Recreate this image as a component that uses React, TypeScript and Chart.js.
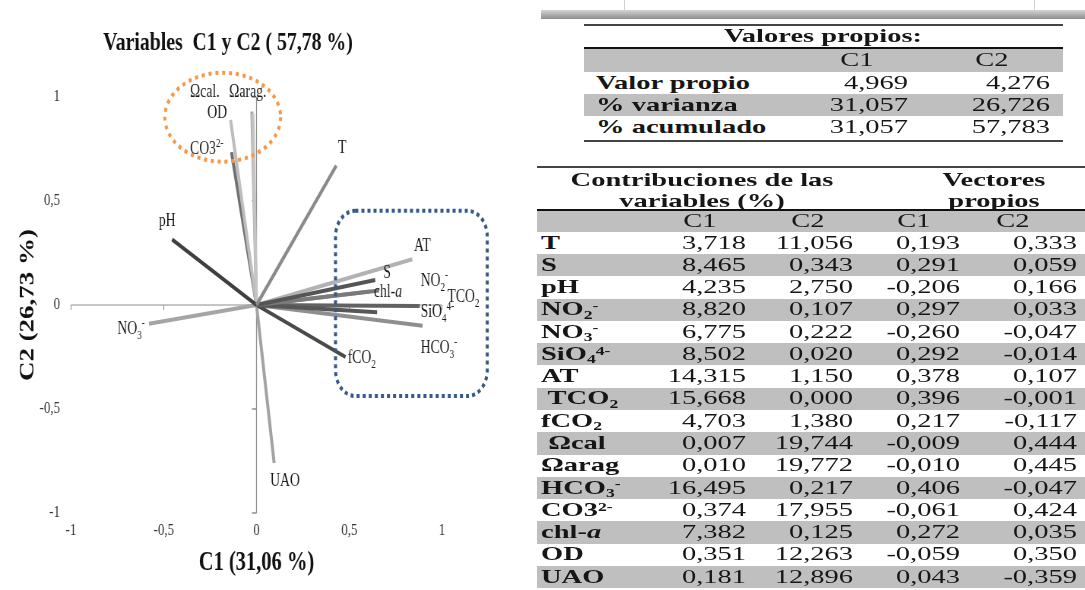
import React, { useEffect, useRef } from "react";
import { Chart, registerables } from "chart.js";

Chart.register(...registerables);

// ---------- DATA ----------
// PCA loadings as drawn in the correlation circle
const varNames = ["T", "S", "pH", "NO2", "NO3", "SiO4", "AT", "TCO2", "fCO2", "Ωcal", "Ωarag", "HCO3", "CO3", "chl-a", "OD", "UAO"];
const loadC1 = [0.43, 0.64, -0.455, 0.66, -0.58, 0.65, 0.84, 0.88, 0.48, -0.02, -0.025, 0.895, -0.14, 0.61, -0.135, 0.095];
const loadC2 = [0.67, 0.12, 0.315, 0.07, -0.09, -0.035, 0.22, -0.005, -0.25, 0.92, 0.93, -0.1, 0.89, 0.065, 0.735, -0.76];

// Labels placed in the plot (annotation anchors in data units)
const plotLabels = ["Ωcal.", "Ωarag.", "OD", "CO3^{2-}", "T", "pH", "AT", "S", "chl-*{a}", "NO_{2}^{-}", "TCO_{2}", "SiO_{4}^{4-}", "HCO_{3}^{-}", "fCO_{2}", "NO_{3}^{-}", "UAO"];
const labelX = [-0.358, -0.147, -0.265, -0.358, 0.439, -0.526, 0.849, 0.683, 0.633, 0.885, 1.029, 0.885, 0.885, 0.492, -0.75, 0.074];
const labelY = [1.029, 1.029, 0.929, 0.753, 0.76, 0.409, 0.288, 0.16, 0.067, 0.12, 0.043, -0.027, -0.2, -0.251, -0.112, -0.843];

const axisTicks = [-1, -0.5, 0, 0.5, 1];

// Eigenvalue table
const eigenRowLabels = ["Valor propio", "% varianza", "% acumulado"];
const eigenC1 = [4.969, 31.057, 31.057];
const eigenC2 = [4.276, 26.726, 57.783];

// Contributions / eigenvectors table
const tableVars = ["T", "S", "pH", "NO_{2}^{-}", "NO_{3}^{-}", "SiO_{4}^{4-}", "AT", " TCO_{2}", "fCO_{2}", " Ωcal", "Ωarag", "HCO_{3}^{-}", "CO3^{2-}", "chl-*{a}", "OD", "UAO"];
const contribC1 = [3.718, 8.465, 4.235, 8.82, 6.775, 8.502, 14.315, 15.668, 4.703, 0.007, 0.01, 16.495, 0.374, 7.382, 0.351, 0.181];
const contribC2 = [11.056, 0.343, 2.75, 0.107, 0.222, 0.02, 1.15, 0.0, 1.38, 19.744, 19.772, 0.217, 17.955, 0.125, 12.263, 12.896];
const eigvecC1 = [0.193, 0.291, -0.206, 0.297, -0.26, 0.292, 0.378, 0.396, 0.217, -0.009, -0.01, 0.406, -0.061, 0.272, -0.059, 0.043];
const eigvecC2 = [0.333, 0.059, 0.166, 0.033, -0.047, -0.014, 0.107, -0.001, -0.117, 0.444, 0.445, -0.047, 0.424, 0.035, 0.35, -0.359];

// ---------- STYLE ----------
const vecColors = ["#8a8a8a", "#555555", "#3f3f3f", "#7a7a7a", "#a5a5a5", "#575757", "#b2b2b2", "#626262", "#4a4a4a", "#c4c4c4", "#a8a8a8", "#8f8f8f", "#bdbdbd", "#9a9a9a", "#707070", "#a3a3a3"];
const SERIF = "'Liberation Serif', 'Times New Roman', serif";
const SQ = 0.76; // horizontal squeeze of the chart picture
const CW = 697;
const CH = 590;
const PX_LEFT = 71 / SQ;
const PX_RIGHT = 442 / SQ;
const PLOT_TOP = 97;
const PLOT_BOTTOM = 513;

const fmt = (v: number) => v.toFixed(3).replace(".", ",");

type Seg = { t: string; m: "n" | "sub" | "sup" | "it" };
function parseRich(s: string): Seg[] {
  const out: Seg[] = [];
  let i = 0;
  let buf = "";
  while (i < s.length) {
    const c = s[i];
    if ((c === "_" || c === "^" || c === "*") && s[i + 1] === "{") {
      if (buf) {
        out.push({ t: buf, m: "n" });
        buf = "";
      }
      const end = s.indexOf("}", i + 2);
      out.push({ t: s.slice(i + 2, end), m: c === "_" ? "sub" : c === "^" ? "sup" : "it" });
      i = end + 1;
    } else {
      buf += c;
      i++;
    }
  }
  if (buf) out.push({ t: buf, m: "n" });
  return out;
}

function drawRich(ctx: CanvasRenderingContext2D, s: string, x: number, yc: number) {
  const base = yc + 6;
  let cx = x;
  ctx.textAlign = "left";
  ctx.textBaseline = "alphabetic";
  ctx.fillStyle = "#1a1a1a";
  for (const seg of parseRich(s)) {
    let dy = 0;
    if (seg.m === "sub") {
      ctx.font = `12px ${SERIF}`;
      dy = 5;
    } else if (seg.m === "sup") {
      ctx.font = `12px ${SERIF}`;
      dy = -7;
    } else if (seg.m === "it") {
      ctx.font = `italic 18px ${SERIF}`;
    } else {
      ctx.font = `18px ${SERIF}`;
    }
    ctx.fillText(seg.t, cx, base + dy);
    cx += ctx.measureText(seg.t).width;
  }
}

const decorPlugin = {
  id: "decor",
  beforeDatasetsDraw(chart: any) {
    const { ctx, scales } = chart;
    const xs = scales.x;
    const ys = scales.y;
    const x0 = xs.getPixelForValue(0);
    const y0 = ys.getPixelForValue(0);
    ctx.save();
    ctx.strokeStyle = "#8c8c8c";
    ctx.lineWidth = 1;
    ctx.beginPath();
    ctx.moveTo(xs.getPixelForValue(-1), y0);
    ctx.lineTo(xs.getPixelForValue(1), y0);
    for (const t of axisTicks) {
      if (t === 0) continue;
      const px = xs.getPixelForValue(t);
      ctx.moveTo(px, y0);
      ctx.lineTo(px, y0 + 5);
    }
    ctx.stroke();
    ctx.lineWidth = 1.3;
    ctx.beginPath();
    ctx.moveTo(x0, ys.getPixelForValue(-1));
    ctx.lineTo(x0, ys.getPixelForValue(1));
    for (const t of axisTicks) {
      if (t === 0) continue;
      const py = ys.getPixelForValue(t);
      ctx.moveTo(x0, py);
      ctx.lineTo(x0 - 6, py);
    }
    ctx.stroke();
    ctx.restore();
  },
  afterDatasetsDraw(chart: any) {
    const { ctx, scales } = chart;
    const xs = scales.x;
    const ys = scales.y;
    ctx.save();
    // orange dotted ellipse
    const ex = xs.getPixelForValue(-0.182);
    const ey = ys.getPixelForValue(0.903);
    const erx = xs.getPixelForValue(0.312) - xs.getPixelForValue(0);
    const ery = ys.getPixelForValue(0) - ys.getPixelForValue(0.214);
    ctx.strokeStyle = "#f79646";
    ctx.lineWidth = 4;
    ctx.setLineDash([4, 5]);
    ctx.beginPath();
    ctx.ellipse(ex, ey, erx, ery, 0, 0, Math.PI * 2);
    ctx.stroke();
    // blue dotted rounded box
    const bl = xs.getPixelForValue(0.426);
    const br = xs.getPixelForValue(1.244);
    const bt = ys.getPixelForValue(0.453);
    const bb = ys.getPixelForValue(-0.4375);
    ctx.strokeStyle = "#34598a";
    ctx.lineWidth = 4;
    ctx.setLineDash([4, 4]);
    ctx.beginPath();
    ctx.roundRect(bl, bt, br - bl, bb - bt, [26]);
    ctx.stroke();
    ctx.setLineDash([]);
    // variable labels
    plotLabels.forEach((lab, i) => {
      drawRich(ctx, lab, xs.getPixelForValue(labelX[i]), ys.getPixelForValue(labelY[i]));
    });
    // chart title
    ctx.font = `bold 26px ${SERIF}`;
    ctx.fillStyle = "#111";
    ctx.textAlign = "center";
    ctx.textBaseline = "alphabetic";
    ctx.fillText("Variables  C1 y C2 ( 57,78 %)", 228 / SQ, 50);
    ctx.restore();
  },
};

// ---------- HTML table helpers ----------
const STRETCH = 1.5;
const TFS = 19;

function RichHtml({ s }: { s: string }) {
  return (
    <>
      {parseRich(s).map((seg, i) => {
        if (seg.m === "sub")
          return (
            <span key={i} style={{ fontSize: "0.62em", position: "relative", top: "0.3em" }}>
              {seg.t}
            </span>
          );
        if (seg.m === "sup")
          return (
            <span key={i} style={{ fontSize: "0.62em", position: "relative", top: "-0.45em" }}>
              {seg.t}
            </span>
          );
        if (seg.m === "it")
          return (
            <i key={i}>{seg.t}</i>
          );
        return <span key={i}>{seg.t}</span>;
      })}
    </>
  );
}

function Txt({ x, y, align = "left", bold = false, s }: { x: number; y: number; align?: string; bold?: boolean; s: string }) {
  const lh = TFS * 1.2;
  const st: React.CSSProperties = {
    position: "absolute",
    top: y - lh / 2,
    height: lh,
    lineHeight: `${lh}px`,
    fontSize: TFS,
    fontFamily: SERIF,
    fontWeight: bold ? 700 : 400,
    whiteSpace: "pre",
    color: "#161616",
    transform: `scaleX(${STRETCH})`,
  };
  if (align === "left") {
    st.left = x;
    st.transformOrigin = "left center";
  } else if (align === "right") {
    st.left = x - 400;
    st.width = 400;
    st.textAlign = "right";
    st.transformOrigin = "right center";
  } else {
    st.left = x - 300;
    st.width = 600;
    st.textAlign = "center";
    st.transformOrigin = "center center";
  }
  return (
    <div style={st}>
      <RichHtml s={s} />
    </div>
  );
}

function Rect({ x, y, w, h, c }: { x: number; y: number; w: number; h: number; c: string }) {
  return <div style={{ position: "absolute", left: x, top: y, width: w, height: h, background: c }} />;
}

function Tables() {
  const items: React.ReactNode[] = [];
  // top gray bar
  items.push(
    <div
      key="bar"
      style={{ position: "absolute", left: 541, top: 10, width: 544, height: 9, background: "linear-gradient(#d4d4d4, #8e8e8e)" }}
    />
  );
  items.push(<Rect key="tk1" x={624} y={0} w={1} h={10} c="#d0d0d0" />);
  items.push(<Rect key="tk2" x={1034} y={0} w={1} h={10} c="#d0d0d0" />);

  // Table 1
  const t1L = 584;
  const t1W = 479;
  items.push(<Rect key="t1r0" x={t1L} y={24} w={t1W} h={2} c="#444" />);
  items.push(<Txt key="t1t" x={823} y={36} align="center" bold s="Valores propios:" />);
  items.push(<Rect key="t1g0" x={t1L} y={49} w={t1W} h={23} c="#bfbfbf" />);
  items.push(<Rect key="t1r1" x={t1L} y={47} w={t1W} h={2} c="#111" />);
  items.push(<Txt key="t1c1" x={857} y={60} align="center" s="C1" />);
  items.push(<Txt key="t1c2" x={992} y={60} align="center" s="C2" />);
  eigenRowLabels.forEach((lab, i) => {
    const yc = 83 + i * 22;
    if (i % 2 === 1) items.push(<Rect key={`t1g${i}`} x={t1L} y={yc - 11} w={t1W} h={22} c="#bfbfbf" />);
    items.push(<Txt key={`t1l${i}`} x={596} y={yc} bold s={lab} />);
    items.push(<Txt key={`t1a${i}`} x={908} y={yc} align="right" s={fmt(eigenC1[i])} />);
    items.push(<Txt key={`t1b${i}`} x={1050} y={yc} align="right" s={fmt(eigenC2[i])} />);
  });
  items.push(<Rect key="t1r2" x={t1L} y={140} w={t1W} h={2} c="#444" />);

  // Table 2
  const t2L = 537;
  const t2W = 548;
  items.push(<Rect key="t2r0" x={t2L} y={166} w={t2W} h={2} c="#444" />);
  items.push(<Txt key="t2h1" x={702} y={180} align="center" bold s="Contribuciones de las" />);
  items.push(<Txt key="t2h2" x={702} y={201} align="center" bold s="variables (%)" />);
  items.push(<Txt key="t2h3" x={994} y={180} align="center" bold s="Vectores" />);
  items.push(<Txt key="t2h4" x={994} y={201} align="center" bold s="propios" />);
  items.push(<Rect key="t2g0" x={t2L} y={211} w={t2W} h={21} c="#bfbfbf" />);
  items.push(<Rect key="t2r1" x={t2L} y={209} w={t2W} h={2} c="#111" />);
  items.push(<Txt key="t2c1" x={700} y={221} align="center" s="C1" />);
  items.push(<Txt key="t2c2" x={808} y={221} align="center" s="C2" />);
  items.push(<Txt key="t2c3" x={914} y={221} align="center" s="C1" />);
  items.push(<Txt key="t2c4" x={1013} y={221} align="center" s="C2" />);
  const step = 22.27;
  tableVars.forEach((lab, i) => {
    const yc = 243 + i * step;
    if (i % 2 === 1) items.push(<Rect key={`t2g${i}`} x={t2L} y={yc - step / 2} w={t2W} h={step} c="#bfbfbf" />);
    items.push(<Txt key={`t2l${i}`} x={541} y={yc} bold s={lab} />);
    items.push(<Txt key={`t2a${i}`} x={746} y={yc} align="right" s={fmt(contribC1[i])} />);
    items.push(<Txt key={`t2b${i}`} x={853} y={yc} align="right" s={fmt(contribC2[i])} />);
    items.push(<Txt key={`t2c${i}`} x={960} y={yc} align="right" s={fmt(eigvecC1[i])} />);
    items.push(<Txt key={`t2d${i}`} x={1077} y={yc} align="right" s={fmt(eigvecC2[i])} />);
  });
  return <>{items}</>;
}

export default function App() {
  const canvasRef = useRef<HTMLCanvasElement | null>(null);

  useEffect(() => {
    const canvas = canvasRef.current;
    if (!canvas) return;
    const datasets = varNames.map((n, i) => ({
      label: n,
      data: [
        { x: 0, y: 0 },
        { x: loadC1[i], y: loadC2[i] },
      ],
      showLine: true,
      borderColor: vecColors[i],
      backgroundColor: vecColors[i],
      borderWidth: 4,
      borderCapStyle: "butt" as const,
      pointRadius: 0,
      pointHoverRadius: 0,
      fill: false,
    }));
    const tickFont = { family: SERIF, size: 17 };
    const chart = new Chart(canvas, {
      type: "scatter",
      data: { datasets },
      options: {
        responsive: false,
        animation: false,
        devicePixelRatio: 1,
        layout: { padding: { top: PLOT_TOP, right: CW - PX_RIGHT, left: 0, bottom: 0 } },
        plugins: {
          legend: { display: false },
          tooltip: { enabled: false },
          title: { display: false },
        },
        scales: {
          x: {
            type: "linear",
            min: -1,
            max: 1,
            ticks: {
              stepSize: 0.5,
              font: tickFont,
              color: "#333",
              padding: 7,
              maxRotation: 0,
              callback: (v: any) => String(v).replace(".", ","),
            },
            grid: { display: false, drawTicks: false },
            border: { display: false },
            title: {
              display: true,
              text: "C1 (31,06 %)",
              color: "#111",
              font: { family: SERIF, size: 27, weight: "bold" },
              padding: { top: 0, bottom: 10.8 },
            },
            afterFit: (s: any) => {
              s.height = CH - PLOT_BOTTOM;
            },
          },
          y: {
            type: "linear",
            min: -1,
            max: 1,
            ticks: {
              stepSize: 0.5,
              font: tickFont,
              color: "#333",
              padding: 14.5,
              callback: (v: any) => String(v).replace(".", ","),
            },
            grid: { display: false, drawTicks: false },
            border: { display: false },
            title: {
              display: true,
              text: "C2 (26,73 %)",
              color: "#111",
              font: { family: SERIF, size: 27, weight: "bold" },
              padding: { top: 20.6, bottom: 0 },
            },
            afterFit: (s: any) => {
              s.width = PX_LEFT;
            },
          },
        },
      } as any,
      plugins: [decorPlugin],
    });
    return () => chart.destroy();
  }, []);

  return (
    <div style={{ position: "absolute", left: 0, top: 0, width: 1085, height: 590, overflow: "hidden", background: "#fff" }}>
      <div style={{ position: "absolute", left: 0, top: 0, width: CW, height: CH, transform: `scaleX(${SQ})`, transformOrigin: "0 0" }}>
        <canvas ref={canvasRef} width={CW} height={CH} style={{ display: "block" }} />
      </div>
      <Tables />
    </div>
  );
}
